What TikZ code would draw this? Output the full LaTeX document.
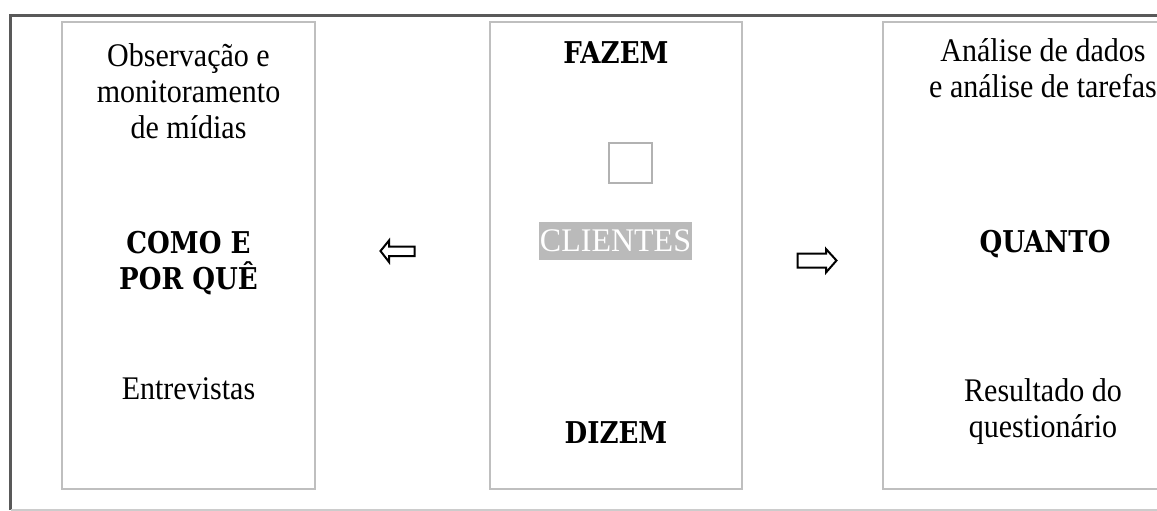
\documentclass[tikz,border=0pt]{standalone}
\usepackage{fontspec}
\setmainfont{Liberation Serif}[FakeStretch=0.91]
\newfontfamily\headfont{DejaVu Serif}[BoldFont={* Bold}, FakeStretch=0.87]
\newfontfamily\tagfont{Liberation Serif}[FakeStretch=0.97]
\tikzset{
  panel/.style={draw=black!25, line width=1.4pt},
  body/.style={font=\fontsize{33}{36}\selectfont, align=center, inner sep=0pt, anchor=base, text=black},
  head/.style={font=\headfont\bfseries\fontsize{30}{36}\selectfont, align=center, inner sep=0pt, anchor=base},
  blockarrow/.style={draw=black, line width=2pt, fill=white, line join=miter},
}
\begin{document}
\begin{tikzpicture}[x=1pt, y=-1pt]
\useasboundingbox (0,0) rectangle (1157,511);
\begin{scope}
\clip (0,0) rectangle (1157,511);
% outer frame
\draw[black!65, line width=3pt] (10.5,510) -- (10.5,15.5) -- (1160,15.5);
\draw[black!20, line width=1.5pt] (10.5,510) -- (1160,510);
% three panels
\draw[panel] (62,22) rectangle (315,489);
\draw[panel] (490,22) rectangle (742,489);
\draw[panel] (883,22) rectangle (1203,489);
% left panel (multi-line nodes sit on the baseline of their last line)
\node[body] (obs) at (188.5,138) {Observação e\\monitoramento\\de mídias};
\node[head] (como) at (188.5,289) {COMO E\\POR QUÊ};
\node[body] (entr) at (188.5,399) {Entrevistas};
% middle panel
\node[head] (fazem) at (616,64) {FAZEM};
\node[draw=black!30, line width=1.2pt, minimum width=43pt, minimum height=40pt, inner sep=0pt] (sq) at (630.5,163) {};
\node[fill=black!27, text=white, inner sep=0pt, minimum width=153pt, minimum height=38pt,
      font=\tagfont\fontsize{33}{34}\selectfont] (cli) at (615.5,241) {CLIENTES};
\node[head] (dizem) at (616,443) {DIZEM};
% right panel
\node[body] (anal) at (1043,98) {Análise de dados\\e análise de tarefas};
\node[head] (quanto) at (1045,252) {QUANTO};
\node[body] (res) at (1043,437) {Resultado do\\questionário};
% white block arrows
\draw[blockarrow] (380.5,251) -- (389,240.5) -- (389,246.5) -- (414.5,246.5) -- (414.5,256) -- (389,256) -- (389,262) -- cycle;
\draw[blockarrow] (836.5,260.5) -- (826,249) -- (826,253.5) -- (797.5,253.5) -- (797.5,267.5) -- (826,267.5) -- (826,272.5) -- cycle;
\end{scope}
\end{tikzpicture}
\end{document}
